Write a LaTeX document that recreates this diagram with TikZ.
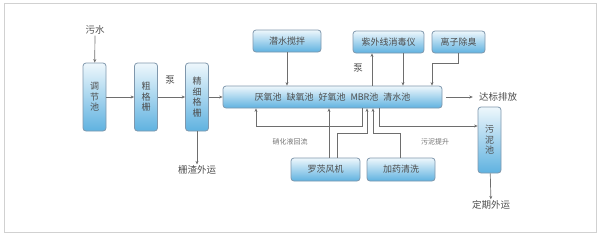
\documentclass[tikz,border=0pt]{standalone}
\usepackage{fontspec}
\newfontfamily\cjk{Noto Sans CJK SC}
\usetikzlibrary{arrows.meta}
\definecolor{boxtop}{HTML}{EEF7FC}
\definecolor{boxbot}{HTML}{5FB2E0}
\definecolor{boxline}{HTML}{7F97AC}
\definecolor{ink}{HTML}{4D4D4D}
\definecolor{wire}{HTML}{6E6E6E}

\begin{document}
\begin{tikzpicture}[x=1pt,y=-1pt,
  tank/.style={draw=boxline,line width=0.8pt,rounded corners=3pt,top color=boxtop,bottom color=boxbot,
    text=ink,font=\cjk\fontsize{9}{10.5}\selectfont,inner sep=0pt,align=center},
  vtank/.style={tank,minimum width=23pt,minimum height=68pt},
  htank/.style={tank,minimum height=22pt},
  lbl/.style={text=ink,font=\cjk\fontsize{9.5}{11}\selectfont,inner sep=1pt},
  small/.style={text=ink!80,font=\cjk\fontsize{7}{8}\selectfont},
  flow/.style={draw=wire,line width=0.7pt,-{Stealth[length=3.5pt,width=3pt]}}]
  \useasboundingbox (0,0) rectangle (600,236);
  \draw[black!18,line width=1pt] (4,3) rectangle (596,232);
  % tanks
  \node[vtank] (tjc) at (94.5,97) {调\\节\\池};
  \node[vtank] (cgs) at (146,97) {粗\\格\\栅};
  \node[vtank] (xgs) at (197,97) {精\\细\\格\\栅};
  \node[htank,minimum width=219pt] (mbr) at (332.5,97)
    {厌氧池\hspace{5pt}缺氧池\hspace{5pt}好氧池\hspace{5pt}MBR池\hspace{5pt}清水池};
  \node[htank,minimum width=68pt] (qsjb) at (287,41) {潜水搅拌};
  \node[htank,minimum width=71pt] (zwx) at (388.5,42) {紫外线消毒仪};
  \node[htank,minimum width=53pt] (lzcc) at (458.5,42) {离子除臭};
  \node[vtank,minimum height=66pt] (wnc) at (489.5,140) {污\\泥\\池};
  \node[htank,minimum width=69pt,minimum height=23pt] (lcfj) at (325.5,169.5) {罗茨风机};
  \node[htank,minimum width=68pt,minimum height=23pt] (jyqx) at (401,169.5) {加药清洗};
  % labels
  \node[lbl] (wushui) at (95,30) {污水};
  \node[lbl] (beng1) at (170,80) {泵};
  \node[lbl] (zhazha) at (197,170) {栅渣外运};
  \node[lbl] (beng2) at (358,68) {泵};
  \node[lbl] (dabiao) at (498,97) {达标排放};
  \node[lbl] (dingqi) at (491,205) {定期外运};
  \node[small] (xiaohua) at (290,142) {硝化液回流};
  \node[small] (wuni) at (435,142) {污泥提升};
  % main line
  \draw[flow] (wushui) -- (tjc);
  \draw[flow] (tjc) -- (cgs);
  \draw[flow] (cgs) -- (xgs);
  \draw[flow] (xgs) -- (mbr);
  \draw[flow] (xgs) -- (zhazha);
  \draw[flow,shorten <=4pt,shorten >=5pt] (mbr) -- (dabiao);
  \draw[flow] (wnc) -- (dingqi);
  % top feeds
  \draw[flow] (qsjb.south) -- (qsjb.south |- mbr.north);
  \coordinate (u1) at (372,0);
  \coordinate (u2) at (403,0);
  \draw[flow] (mbr.north -| u1) -- (zwx.south -| u1);
  \draw[flow] (zwx.south -| u2) -- (mbr.north -| u2);
  \coordinate (o1) at (458.5,63);
  \coordinate (o2) at (432,63);
  \draw[flow] (lzcc.south) -- (o1) -- (o2) -- (mbr.north -| o2);
  % recirculation
  \coordinate (r1) at (362,126);
  \coordinate (r2) at (256,126);
  \draw[flow] (mbr.south -| r1) -- (r1) -- (r2) -- (mbr.south -| r2);
  % blower and dosing
  \coordinate (b1) at (329,0);
  \draw[flow] (lcfj.north -| b1) -- (mbr.south -| b1);
  \coordinate (b2) at (337,133);
  \coordinate (b3) at (367,133);
  \draw[flow] (lcfj.north -| b2) -- (b2) -- (b3) -- (mbr.south -| b3);
  \coordinate (d1) at (400,133);
  \coordinate (d2) at (373,133);
  \draw[flow] (jyqx.north -| d1) -- (d1) -- (d2) -- (mbr.south -| d2);
  % sludge
  \coordinate (s1) at (379,126);
  \draw[flow] (mbr.south -| s1) -- (s1) -- (wnc.west |- s1);
\end{tikzpicture}
\end{document}
